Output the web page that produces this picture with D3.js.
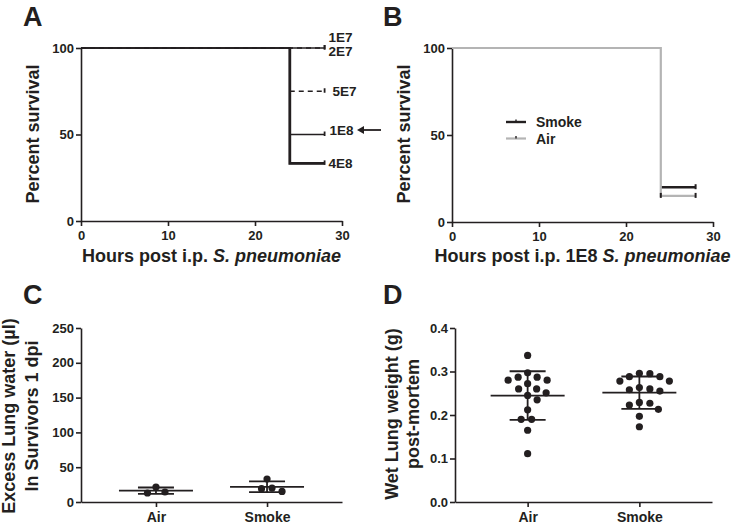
<!DOCTYPE html>
<html>
<head>
<meta charset="utf-8">
<script src="https://cdn.jsdelivr.net/npm/d3@7"></script>
<style>
  html, body { margin: 0; padding: 0; background: #fff; }
  svg { display: block; font-family: "Liberation Sans", Arial, sans-serif; }
  text { fill: #231f20; font-weight: bold; }
</style>
</head>
<body>
<svg id="chart" width="737" height="528"></svg>
<script>
// ---------------- DATA ----------------
// Panel A: survival by dose (time points in hours, percent surviving)
const doseNames = ["1E7", "2E7", "5E7", "1E8", "4E8"];
const survivalTimes = [0, 24, 28];
const doseSurvival = [
  [100, 100, 100],
  [100, 100, 100],
  [100, 75, 75],
  [100, 50, 50],
  [100, 33.3, 33.3]
];
// Panel B: survival after 1E8, smoke vs air
const exposureNames = ["Smoke", "Air"];
const exposureSurvival = [
  [100, 20, 20],
  [100, 15, 15]
];
const survivalTicksX = [0, 10, 20, 30];
const survivalTicksY = [0, 50, 100];
// Panel C: excess lung water (µl) in survivors, 1 dpi
const groups = ["Air", "Smoke"];
const lungWaterAir = [21.5, 12.9, 14.4];
const lungWaterSmoke = [33, 20, 15.2, 19.1];
const lungWaterTicks = [0, 50, 100, 150, 200, 250];
// Panel D: wet lung weight (g) post-mortem
const wetWeightAir = [0.337, 0.280, 0.287, 0.287, 0.297, 0.280, 0.260, 0.260, 0.272,
                      0.245, 0.251, 0.235, 0.212, 0.190, 0.190, 0.165, 0.111];
const wetWeightSmoke = [0.278, 0.295, 0.288, 0.288, 0.296, 0.278, 0.263, 0.258, 0.255,
                        0.260, 0.229, 0.223, 0.227, 0.213, 0.197, 0.173];
const wetWeightTicks = [0.0, 0.1, 0.2, 0.3, 0.4];

// ---------------- DRAWING ----------------
const svg = d3.select("#chart");
const INK = "#231f20";
const GRAY = "#b4b4b4";

function panelLetter(letter, x, y) {
  svg.append("text").attr("x", x).attr("y", y).attr("font-size", 27).text(letter);
}

function styleAxis(g) {
  g.select(".domain").attr("stroke", INK).attr("stroke-width", 1.6);
  g.selectAll(".tick line").attr("stroke", INK).attr("stroke-width", 1.6);
  g.selectAll(".tick text").attr("fill", INK).attr("font-size", 13)
    .attr("font-weight", "bold").attr("font-family", "Liberation Sans, Arial, sans-serif");
}

function yTitle(lines, x0, cy, spacing) {
  const t = svg.append("text")
    .attr("transform", `translate(${x0},${cy}) rotate(-90)`)
    .attr("text-anchor", "middle").attr("font-size", 18);
  lines.forEach((l, i) => {
    t.append("tspan").attr("x", 0).attr("dy", i === 0 ? 0 : spacing).text(l);
  });
}

function survivalPanel(opts) {
  const x = d3.scaleLinear().domain([0, 30]).range([opts.x0, opts.x1]);
  const y = d3.scaleLinear().domain([0, 100]).range([opts.y0, opts.y1]);
  const gx = svg.append("g").attr("transform", `translate(0,${opts.y0})`)
    .call(d3.axisBottom(x).tickValues(survivalTicksX).tickSize(5).tickPadding(5).tickSizeOuter(0));
  styleAxis(gx);
  const gy = svg.append("g").attr("transform", `translate(${opts.x0},0)`)
    .call(d3.axisLeft(y).tickValues(survivalTicksY).tickSize(5).tickPadding(2).tickSizeOuter(0));
  styleAxis(gy);
  const line = d3.line().x((d, i) => x(survivalTimes[i])).y(d => y(d)).curve(d3.curveStepAfter);
  // line for the part after the first time point (index offset 1)
  const lineAfter = d3.line().x((d, i) => x(survivalTimes[i + 1])).y(d => y(d)).curve(d3.curveStepAfter);
  return { x, y, line, lineAfter };
}

// ---------- Panel A ----------
panelLetter("A", 23, 26);
{
  const p = survivalPanel({ x0: 81, x1: 342, y0: 221, y1: 48 });
  const styles = [
    { w: 1.5, dash: null },
    { w: 1.5, dash: "5,4" },
    { w: 1.5, dash: "5,4" },
    { w: 1.5, dash: null },
    { w: 1.5, dash: null }
  ];
  [2, 1, 0, 3, 4].forEach(i => {
    svg.append("path").datum(doseSurvival[i])
      .attr("d", p.line).attr("fill", "none").attr("stroke", INK)
      .attr("stroke-width", styles[i].w)
      .attr("stroke-dasharray", styles[i].dash);
    const last = doseSurvival[i][doseSurvival[i].length - 1];
    svg.append("line")
      .attr("x1", p.x(survivalTimes[2])).attr("x2", p.x(survivalTimes[2]))
      .attr("y1", p.y(last) - 3).attr("y2", p.y(last) + 1.5)
      .attr("stroke", INK).attr("stroke-width", 1.8);
  });
  // highest dose drawn heavier after the drop (vertical + horizontal)
  const hi = doseSurvival[4];
  svg.append("path")
    .attr("d", `M${p.x(survivalTimes[1])},${p.y(hi[0])}` + p.lineAfter(hi.slice(1)).replace(/^M/, "L"))
    .attr("fill", "none").attr("stroke", INK).attr("stroke-width", 2.8);
  // labels
  const labelDy = [-6, 8, 5, 0, 5];
  const labelDx = [4, 4, 8, 5, 4];
  doseNames.forEach((n, i) => {
    const last = doseSurvival[i][2];
    svg.append("text").attr("x", p.x(28) + labelDx[i]).attr("y", p.y(last) + labelDy[i])
      .attr("font-size", 13.5).text(n);
  });
  // arrow pointing at 1E8
  const ay = p.y(50) - 4.5;
  svg.append("line").attr("x1", 362).attr("x2", 381).attr("y1", ay).attr("y2", ay)
    .attr("stroke", INK).attr("stroke-width", 1.8);
  svg.append("path").attr("d", `M357,${ay} L364,${ay - 4} L364,${ay + 4} Z`).attr("fill", INK);
  // axis titles
  yTitle(["Percent survival"], 39, 134, 0);
  const xt = svg.append("text").attr("x", 211.5).attr("y", 262).attr("text-anchor", "middle").attr("font-size", 18);
  xt.append("tspan").text("Hours post i.p. ");
  xt.append("tspan").attr("font-style", "italic").text("S. pneumoniae");
}

// ---------- Panel B ----------
panelLetter("B", 383, 26);
{
  const p = survivalPanel({ x0: 452, x1: 713, y0: 222, y1: 48 });
  const colors = [INK, GRAY];
  const widths = [2.4, 2.2];
  // Smoke: only the segment after the drop is visible (rest is covered by Air)
  svg.append("path").datum(exposureSurvival[0].slice(1))
    .attr("d", p.lineAfter).attr("fill", "none").attr("stroke", INK).attr("stroke-width", widths[0]);
  svg.append("path").datum(exposureSurvival[1])
    .attr("d", p.line).attr("fill", "none").attr("stroke", GRAY).attr("stroke-width", widths[1]);
  // censor ticks
  exposureSurvival.forEach(s => {
    svg.append("line")
      .attr("x1", p.x(28)).attr("x2", p.x(28))
      .attr("y1", p.y(s[2]) - 3).attr("y2", p.y(s[2]) + 2)
      .attr("stroke", INK).attr("stroke-width", 2);
  });
  svg.append("line")
    .attr("x1", p.x(24)).attr("x2", p.x(24))
    .attr("y1", p.y(exposureSurvival[1][1]) - 3).attr("y2", p.y(exposureSurvival[1][1]) + 2)
    .attr("stroke", INK).attr("stroke-width", 2);
  // legend
  exposureNames.forEach((n, i) => {
    const ly = 122 + i * 16.5;
    svg.append("line").attr("x1", 506).attr("x2", 526).attr("y1", ly).attr("y2", ly)
      .attr("stroke", colors[i]).attr("stroke-width", widths[i]);
    svg.append("line").attr("x1", 516).attr("x2", 516).attr("y1", ly - 2.5).attr("y2", ly)
      .attr("stroke", INK).attr("stroke-width", 1.4);
    svg.append("text").attr("x", 536).attr("y", ly + 5).attr("font-size", 14).text(n);
  });
  yTitle(["Percent survival"], 410, 134, 0);
  const xt = svg.append("text").attr("x", 582.5).attr("y", 262).attr("text-anchor", "middle").attr("font-size", 18);
  xt.append("tspan").text("Hours post i.p. 1E8 ");
  xt.append("tspan").attr("font-style", "italic").text("S. pneumoniae");
}

// ---------- scatter (mean ± SD) panels ----------
function swarmOffsets(vals, y, minDist) {
  const order = vals.map((v, i) => i).sort((a, b) => vals[b] - vals[a]);
  const placed = [];
  const out = new Array(vals.length).fill(0);
  order.forEach(i => {
    const py = y(vals[i]);
    let best = null;
    for (let k = 0; k < 200 && best === null; k++) {
      const cands = k === 0 ? [0] : [k * 0.5, -k * 0.5];
      for (const dx of cands) {
        if (placed.every(p => (p.dx - dx) ** 2 + (p.y - py) ** 2 >= minDist * minDist)) { best = dx; break; }
      }
    }
    out[i] = best;
    placed.push({ dx: best, y: py });
  });
  return out;
}

function scatterPanel(opts) {
  const x = d3.scalePoint().domain(groups).range([opts.x0, opts.x1]).padding(opts.pad);
  const y = d3.scaleLinear().domain(opts.domain).range([opts.y0, opts.y1]);
  const gx = svg.append("g").attr("transform", `translate(0,${opts.y0})`)
    .call(d3.axisBottom(x).tickSize(5).tickPadding(5).tickSizeOuter(0));
  styleAxis(gx);
  gx.selectAll(".tick text").attr("font-size", 14);
  const gy = svg.append("g").attr("transform", `translate(${opts.x0},0)`)
    .call(d3.axisLeft(y).tickValues(opts.ticks).tickSize(5).tickPadding(2).tickSizeOuter(0)
      .tickFormat(opts.fmt));
  styleAxis(gy);
  opts.series.forEach((vals, gi) => {
    const cx = x(groups[gi]);
    const offs = swarmOffsets(vals, y, 10.2);
    svg.append("g").selectAll("circle").data(vals).join("circle")
      .attr("cx", (d, i) => cx + offs[i]).attr("cy", d => y(d)).attr("r", 3.6).attr("fill", INK);
    const m = d3.mean(vals), sd = d3.deviation(vals);
    const g = svg.append("g").attr("stroke", INK).attr("stroke-width", 1.8);
    g.append("line").attr("x1", cx - 37).attr("x2", cx + 37).attr("y1", y(m)).attr("y2", y(m));
    g.append("line").attr("x1", cx).attr("x2", cx).attr("y1", y(m + sd)).attr("y2", y(m - sd));
    [m + sd, m - sd].forEach(v => {
      g.append("line").attr("x1", cx - 18).attr("x2", cx + 18).attr("y1", y(v)).attr("y2", y(v));
    });
  });
}

// ---------- Panel C ----------
panelLetter("C", 23, 304);
scatterPanel({
  x0: 81, x1: 342, pad: 0.675, y0: 502, y1: 328, domain: [0, 250],
  ticks: lungWaterTicks, fmt: d3.format("d"),
  series: [lungWaterAir, lungWaterSmoke]
});
yTitle(["Excess Lung water (\u00b5l)", "In Survivors 1 dpi"], 15, 416, 23);

// ---------- Panel D ----------
panelLetter("D", 383, 304);
scatterPanel({
  x0: 455, x1: 712, pad: 0.65, y0: 502, y1: 328, domain: [0, 0.4],
  ticks: wetWeightTicks, fmt: d3.format(".1f"),
  series: [wetWeightAir, wetWeightSmoke]
});
yTitle(["Wet Lung weight (g)", "post-mortem"], 398, 414, 21);
</script>
</body>
</html>
